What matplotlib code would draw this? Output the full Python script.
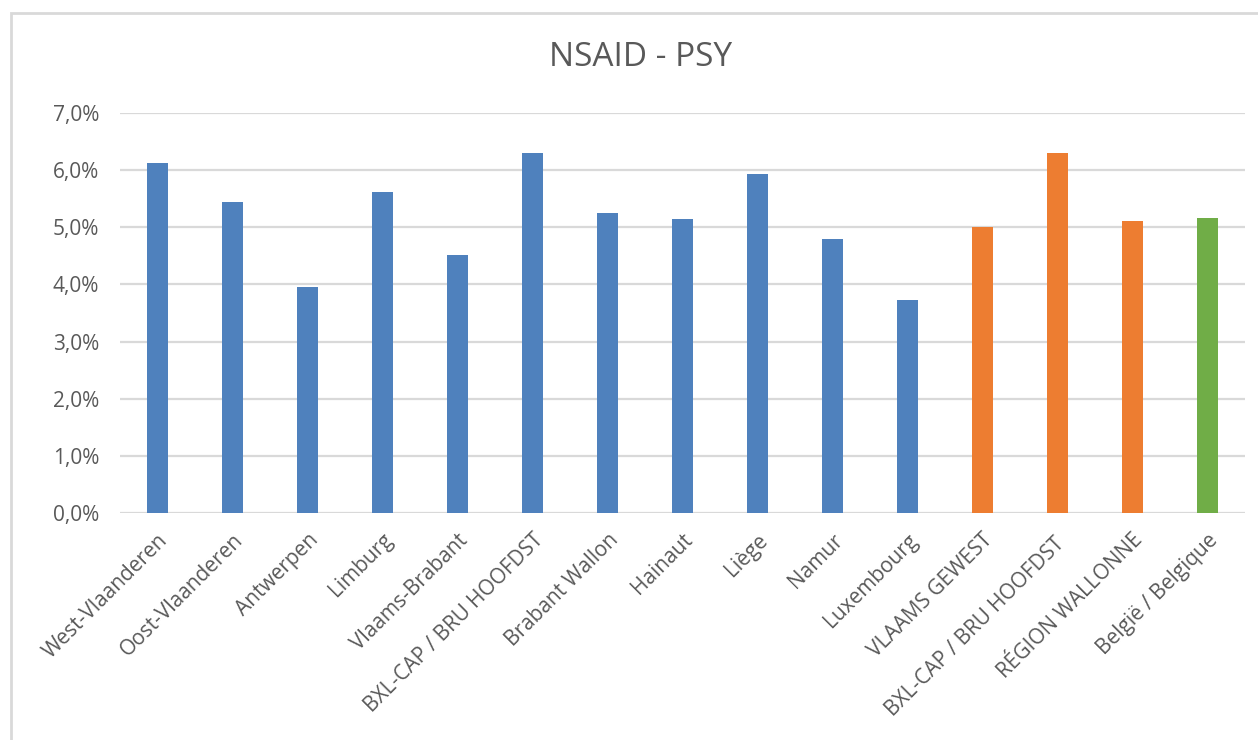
import numpy as np
import matplotlib.pyplot as plt
from matplotlib.patches import Rectangle
from matplotlib.ticker import FuncFormatter

categories = ["West-Vlaanderen", "Oost-Vlaanderen", "Antwerpen", "Limburg",
              "Vlaams-Brabant", "BXL-CAP / BRU HOOFDST", "Brabant Wallon",
              "Hainaut", "Liège", "Namur", "Luxembourg", "VLAAMS GEWEST",
              "BXL-CAP / BRU HOOFDST ", "RÉGION WALLONNE", "België / Belgique"]
values = [6.12, 5.44, 3.96, 5.62, 4.51, 6.30, 5.25,
          5.14, 5.94, 4.79, 3.73, 5.01, 6.30, 5.11, 5.17]
groups = ["prov"] * 11 + ["region"] * 3 + ["country"]

group_colors = {"prov": "#4F81BD", "region": "#ED7D31", "country": "#70AD47"}
text_color = "#595959"
grid_color = "#D9D9D9"

plt.rcParams['font.family'] = ['Open Sans', 'DejaVu Sans']

fig = plt.figure(figsize=(12.58, 7.4), dpi=100)
W, H = 1258, 740
# chart outer border (partly outside the image on right/bottom)
fig.add_artist(Rectangle((11 / W, -0.05), 1.1, 1 - 13 / H + 0.05,
                         transform=fig.transFigure, fill=False,
                         edgecolor=grid_color, linewidth=2))

ax = fig.add_axes([120 / W, 1 - 513 / H, (1245 - 120) / W, (513 - 113) / H])
x = np.arange(len(categories))
colors = [group_colors[g] for g in groups]
ax.bar(x, values, width=0.29, color=colors, zorder=3)

ax.set_ylim(0, 7)
ax.set_xlim(-0.5, len(categories) - 0.5)
ax.set_yticks(np.arange(0, 8, 1))
ax.yaxis.set_major_formatter(FuncFormatter(lambda v, p: "{:.1f}%".format(v).replace(".", ",")))
ax.grid(axis="y", color=grid_color, linewidth=1.6, zorder=0)
for s in ax.spines.values():
    s.set_visible(False)
ax.tick_params(axis="both", length=0, colors=text_color, labelsize=15)
ax.tick_params(axis="y", pad=15)
ax.set_xticks(x)
ax.set_xticklabels(categories, rotation=45, ha="right", rotation_mode="anchor")
ax.tick_params(axis="x", pad=12)

fig.text(641 / W, 1 - 57 / H, "NSAID - PSY", ha="center", va="center",
         fontsize=24, color=text_color)

fig.savefig("out.png", dpi=100)
